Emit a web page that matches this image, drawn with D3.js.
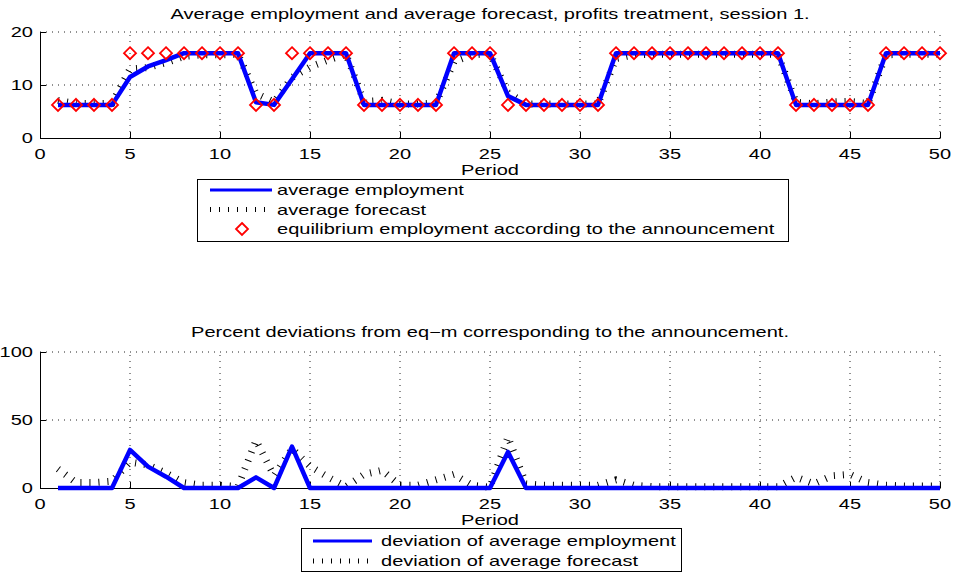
<!DOCTYPE html>
<html>
<head>
<meta charset="utf-8">
<script src="https://cdn.jsdelivr.net/npm/d3@7"></script>
<style>
  html, body { margin: 0; padding: 0; background: #fff; }
  svg { display: block; }
  text { font-family: "Liberation Sans", Arial, Helvetica, sans-serif; fill: #000; }
</style>
</head>
<body>
<svg id="chart" width="956" height="573"></svg>
<script>
// Periods 1..50 of session 1
const periods = d3.range(1, 51);

// Equilibrium employment according to the announcement
const equilibrium = [
  6.25, 6.25, 6.25, 6.25, 16, 16, 16, 16, 16, 16,
  16, 6.25, 6.25, 16, 16, 16, 16, 6.25, 6.25, 6.25,
  6.25, 6.25, 16, 16, 16, 6.25, 6.25, 6.25, 6.25, 6.25,
  6.25, 16, 16, 16, 16, 16, 16, 16, 16, 16,
  16, 6.25, 6.25, 6.25, 6.25, 6.25, 16, 16, 16, 16
];

// Average employment
const avgEmployment = [
  6.25, 6.25, 6.25, 6.25, 11.5, 13.5, 14.7, 16, 16, 16,
  16, 6.74, 6.25, 11.1, 16, 16, 16, 6.25, 6.25, 6.25,
  6.25, 6.25, 16, 16, 16, 7.9, 6.25, 6.25, 6.25, 6.25,
  6.25, 16, 16, 16, 16, 16, 16, 16, 16, 16,
  16, 6.25, 6.25, 6.25, 6.25, 6.25, 16, 16, 16, 16
];

// Average forecast
const avgForecast = [
  7.1, 6.5, 6.5, 6.56, 13.0, 13.3, 14.2, 15.4, 15.7, 15.7,
  15.8, 8.4, 6.8, 11.4, 13.4, 14.7, 15.8, 6.9, 7.1, 6.4,
  6.4, 6.6, 14.4, 15.7, 15.9, 8.6, 6.4, 6.4, 6.4, 6.4,
  6.4, 15.0, 15.7, 15.8, 15.8, 15.8, 15.8, 15.8, 15.8, 15.8,
  15.8, 6.75, 6.45, 6.8, 6.9, 6.5, 15.7, 15.8, 15.8, 15.8
];

// Percent deviation of average employment from the announced equilibrium
const devEmployment = [
  0, 0, 0, 0, 28, 15.7, 8.3, 0, 0, 0,
  0, 7.8, 0, 30.4, 0, 0, 0, 0, 0, 0,
  0, 0, 0, 0, 0, 26.5, 0, 0, 0, 0,
  0, 0, 0, 0, 0, 0, 0, 0, 0, 0,
  0, 0, 0, 0, 0, 0, 0, 0, 0, 0
];

// Percent deviation of average forecast from the announced equilibrium
const devForecast = [
  14, 4, 4, 5, 19, 17, 11, 4, 2, 2,
  1, 35, 9, 29, 16, 8, 1, 10, 13, 2,
  2, 6, 10, 2, 0.5, 37.5, 3, 2, 2, 2,
  2, 6, 2, 1, 1, 1, 1, 1, 1, 1,
  1, 8, 3, 9, 10, 4, 2, 1.5, 1.5, 1.5
];

const xTicks = d3.range(0, 51, 5);
const yTicksTop = [0, 10, 20];
const yTicksBottom = [0, 50, 100];

const topTitle = "Average employment and average forecast, profits treatment, session 1.";
const bottomTitle = "Percent deviations from eq\u2212m corresponding to the announcement.";
const xLabel = "Period";
const topLegend = ["average employment", "average forecast", "equilibrium employment according to the announcement"];
const bottomLegend = ["deviation of average employment", "deviation of average forecast"];

// ---- drawing ----
const svg = d3.select("#chart");
const FONT = 14;
const SX = 1.43; // horizontal stretch of all labels

function label(parent, x, y, str, anchor) {
  const g = parent.append("g").attr("transform", `translate(${x},${y}) scale(${SX},1)`);
  g.append("text")
    .attr("text-anchor", anchor || "start")
    .attr("font-size", FONT)
    .text(str);
  return g;
}

const x = d3.scaleLinear().domain([0, 50]).range([40, 940]);

const BLUE = "#0000ff";
const RED = "#ff0000";
const HATCH_W = 7, HATCH_DASH = "1 8";

function panel(opts) {
  const { y, yTicks, title, titleY, tickY, labelY } = opts;
  const g = svg.append("g");
  const [y0, y1] = y.range();

  // dotted grid
  g.append("g").selectAll("line.gx").data(xTicks.filter(d => d > 0)).join("line")
    .attr("x1", d => x(d)).attr("x2", d => x(d))
    .attr("y1", y0).attr("y2", y1)
    .attr("stroke", "#222").attr("stroke-width", 1).attr("stroke-dasharray", "1 5");
  g.append("g").selectAll("line.gy").data(yTicks.filter(d => d > 0)).join("line")
    .attr("x1", x(0)).attr("x2", x(50))
    .attr("y1", d => y(d)).attr("y2", d => y(d))
    .attr("stroke", "#222").attr("stroke-width", 1).attr("stroke-dasharray", "1 5");

  // axes with inward ticks
  const xAxis = d3.axisBottom(x).tickValues(xTicks).tickSizeInner(-6).tickSizeOuter(0).tickFormat("");
  const yAxis = d3.axisLeft(y).tickValues(yTicks).tickSizeInner(-6).tickSizeOuter(0).tickFormat("");
  const ax = g.append("g").attr("transform", `translate(0,${y0})`).call(xAxis);
  const ay = g.append("g").attr("transform", `translate(${x(0)},0)`).call(yAxis);
  [ax, ay].forEach(a => {
    a.select(".domain").attr("stroke", "#000").attr("stroke-width", 1);
    a.selectAll(".tick line").attr("stroke", "#000").attr("stroke-width", 1);
  });

  // tick labels
  xTicks.forEach(t => label(g, x(t), tickY, String(t), "middle"));
  yTicks.forEach(t => label(g, x(0) - 7, y(t) + 5, String(t), "end"));

  label(g, (x(0) + x(50)) / 2, titleY, title, "middle");
  label(g, (x(0) + x(50)) / 2, labelY, xLabel, "middle");
  return g;
}

function hatchLine(g, y, values) {
  g.append("path")
    .datum(values)
    .attr("fill", "none")
    .attr("stroke", "#000")
    .attr("stroke-width", HATCH_W)
    .attr("stroke-dasharray", HATCH_DASH)
    .attr("d", d3.line().x((d, i) => x(periods[i])).y(d => y(d)));
}
function solidLine(g, y, values) {
  g.append("path")
    .datum(values)
    .attr("fill", "none")
    .attr("stroke", BLUE)
    .attr("stroke-width", 4.5)
    .attr("stroke-linejoin", "round")
    .attr("d", d3.line().x((d, i) => x(periods[i])).y(d => y(d)));
}
const diamond = s => `M0,${-s}L${s},0L0,${s}L${-s},0Z`;

// ---- top panel ----
const yTop = d3.scaleLinear().domain([0, 20]).range([138, 32]);
const gTop = panel({ y: yTop, yTicks: yTicksTop, title: topTitle, titleY: 19, tickY: 159, labelY: 175 });
hatchLine(gTop, yTop, avgForecast);
solidLine(gTop, yTop, avgEmployment);
gTop.append("g").selectAll("path").data(equilibrium).join("path")
  .attr("transform", (d, i) => `translate(${x(periods[i])},${yTop(d)})`)
  .attr("d", diamond(6))
  .attr("fill", "none").attr("stroke", RED).attr("stroke-width", 1.8);

// top legend
const lt = svg.append("g");
lt.append("rect").attr("x", 197.5).attr("y", 179.5).attr("width", 591).attr("height", 62)
  .attr("fill", "#fff").attr("stroke", "#000").attr("stroke-width", 1);
lt.append("line").attr("x1", 210).attr("x2", 272).attr("y1", 190).attr("y2", 190)
  .attr("stroke", BLUE).attr("stroke-width", 3);
lt.append("line").attr("x1", 210).attr("x2", 272).attr("y1", 209.5).attr("y2", 209.5)
  .attr("stroke", "#000").attr("stroke-width", 5).attr("stroke-dasharray", "1 8");
lt.append("path").attr("transform", "translate(242,229)").attr("d", diamond(6))
  .attr("fill", "none").attr("stroke", RED).attr("stroke-width", 1.8);
topLegend.forEach((s, i) => label(lt, 277, 195 + i * 19.5, s, "start"));

// ---- bottom panel ----
const yBot = d3.scaleLinear().domain([0, 100]).range([488, 352]);
const gBot = panel({ y: yBot, yTicks: yTicksBottom, title: bottomTitle, titleY: 337, tickY: 509, labelY: 525 });
hatchLine(gBot, yBot, devForecast);
solidLine(gBot, yBot, devEmployment);

// bottom legend
const lb = svg.append("g");
lb.append("rect").attr("x", 301.5).attr("y", 528.5).attr("width", 380).attr("height", 43)
  .attr("fill", "#fff").attr("stroke", "#000").attr("stroke-width", 1);
lb.append("line").attr("x1", 313).attr("x2", 372).attr("y1", 541).attr("y2", 541)
  .attr("stroke", BLUE).attr("stroke-width", 3);
lb.append("line").attr("x1", 313).attr("x2", 372).attr("y1", 561).attr("y2", 561)
  .attr("stroke", "#000").attr("stroke-width", 5).attr("stroke-dasharray", "1 8");
bottomLegend.forEach((s, i) => label(lb, 381, 546 + i * 20, s, "start"));
</script>
</body>
</html>
